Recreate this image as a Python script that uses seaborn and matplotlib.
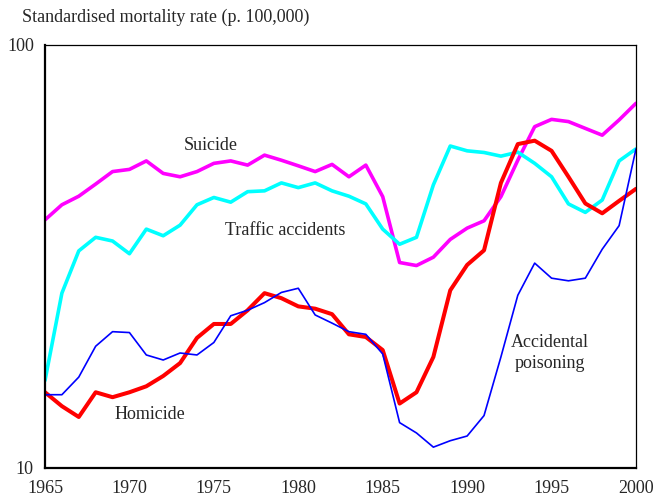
import numpy as np
import pandas as pd
import matplotlib
matplotlib.use('Agg')
import matplotlib.pyplot as plt
import seaborn as sns

# ── DATA ───────────────────────────────────────────────────────
years = list(range(1965, 2001))

suicide = [38.6, 41.9, 43.9, 46.9, 50.2, 50.8, 53.2, 49.7, 48.8, 50.2,
           52.5, 53.2, 52.0, 54.9, 53.4, 51.8, 50.2, 52.2, 48.8, 52.0,
           43.8, 30.6, 30.1, 31.5, 34.7, 36.9, 38.4, 43.8, 53.4, 64.1,
           66.7, 65.9, 63.5, 61.2, 66.5, 72.8]

traffic = [16.1, 25.9, 32.6, 35.1, 34.4, 32.1, 36.7, 35.4, 37.5, 41.9,
           43.6, 42.5, 45.0, 45.2, 47.2, 46.0, 47.2, 45.2, 43.9, 42.1,
           36.7, 33.8, 35.1, 46.7, 57.7, 56.2, 55.7, 54.6, 55.8, 52.5,
           48.8, 42.1, 40.2, 43.0, 53.2, 56.8]

homicide = [15.1, 14.0, 13.2, 15.1, 14.7, 15.1, 15.6, 16.5, 17.7, 20.3,
            21.9, 21.9, 23.6, 25.9, 25.2, 24.1, 23.8, 23.1, 20.7, 20.4,
            19.0, 14.2, 15.1, 18.3, 26.3, 30.2, 32.7, 47.2, 58.3, 59.4,
            56.2, 48.8, 42.2, 40.0, 42.8, 45.7]

poisoning = [14.9, 14.9, 16.4, 19.4, 21.0, 20.9, 18.5, 18.0, 18.7, 18.5,
             19.8, 22.9, 23.6, 24.6, 26.0, 26.6, 23.0, 22.0, 21.0, 20.7,
             18.6, 12.8, 12.1, 11.2, 11.6, 11.9, 13.3, 18.3, 25.6, 30.5,
             28.1, 27.7, 28.1, 32.9, 37.4, 56.8]

series_names = ['Suicide', 'Traffic accidents', 'Homicide', 'Accidental poisoning']
series_values = [suicide, traffic, homicide, poisoning]
series_colors = ['#ff00ff', '#00ffff', '#ff0000', '#0000ff']
series_widths = [2.6, 2.6, 2.9, 1.2]

x_ticks = [1965, 1970, 1975, 1980, 1985, 1990, 1995, 2000]
y_ticks = [10, 100]

df = pd.DataFrame({
    'year': years * len(series_names),
    'rate': sum(series_values, []),
    'cause': np.repeat(series_names, len(years)),
})

# ── PLOT ───────────────────────────────────────────────────────
sns.set_style('white')
plt.rcParams['font.family'] = ['Liberation Serif', 'DejaVu Serif']

fig = plt.figure(figsize=(6.56, 4.97), dpi=100)
ax = fig.add_axes([0.0686, 0.0584, 0.9009, 0.8511])

for name, col, lw in zip(series_names, series_colors, series_widths):
    sns.lineplot(data=df[df['cause'] == name], x='year', y='rate',
                 color=col, linewidth=lw, ax=ax, legend=False)

ax.set_yscale('log')
ax.set_xlim(1965, 2000)
ax.set_ylim(10, 100)
ax.set_xticks(x_ticks)
ax.set_xticklabels([str(t) for t in x_ticks], fontsize=13)
ax.set_yticks(y_ticks)
ax.set_yticklabels([str(t) for t in y_ticks], fontsize=13)
ax.yaxis.set_minor_locator(matplotlib.ticker.NullLocator())
ax.tick_params(axis='x', direction='in', length=4, width=1, pad=9)
ax.tick_params(axis='y', length=0, pad=8)
ax.set_xlabel('')
ax.set_ylabel('')

for side in ['left', 'bottom']:
    ax.spines[side].set_linewidth(1.6)
for side in ['top', 'right']:
    ax.spines[side].set_linewidth(0.9)
for s in ax.spines.values():
    s.set_color('black')

# series labels
ax.text(1974.8, 58.0, 'Suicide', fontsize=13, ha='center', va='center')
ax.text(1979.2, 36.5, 'Traffic accidents', fontsize=13, ha='center', va='center')
ax.text(1971.2, 13.35, 'Homicide', fontsize=13, ha='center', va='center')
ax.text(1994.9, 18.7, 'Accidental\npoisoning', fontsize=13, ha='center',
        va='center', linespacing=1.3)

fig.text(22 / 656, 1 - 17 / 497, 'Standardised mortality rate (p. 100,000)',
         fontsize=13, ha='left', va='center')

plt.savefig('out.png', dpi=100)
